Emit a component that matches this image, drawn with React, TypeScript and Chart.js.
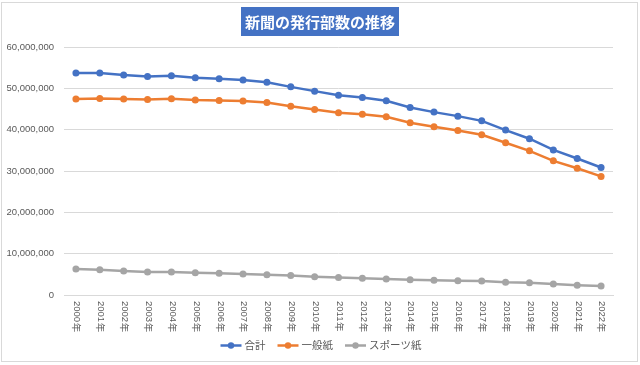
import { useEffect, useRef } from 'react';
import { Chart, registerables } from 'chart.js';

Chart.register(...registerables);

const TITLE = '新聞の発行部数の推移';

const years = [
  '2000年', '2001年', '2002年', '2003年', '2004年', '2005年', '2006年', '2007年',
  '2008年', '2009年', '2010年', '2011年', '2012年', '2013年', '2014年', '2015年',
  '2016年', '2017年', '2018年', '2019年', '2020年', '2021年', '2022年',
];

const total = [
  53708831, 53680756, 53198444, 52874959, 53021564, 52568032, 52310478, 52028671,
  51491409, 50352831, 49321840, 48345304, 47777913, 46999468, 45362672, 44246688,
  43276147, 42128189, 39901576, 37811248, 35091944, 33027135, 30846631,
];

const general = [
  47401669, 47559052, 47390027, 47282645, 47469987, 47189832, 47056527, 46963136,
  46563681, 45659885, 44906720, 44091335, 43723161, 43126352, 41687125, 40691684,
  39821106, 38763641, 36823021, 34877203, 32454947, 30657160, 28694915,
];

const sports = [
  6307162, 6121704, 5808417, 5592314, 5551577, 5378200, 5253951, 5065535,
  4927728, 4692946, 4415120, 4253969, 4054752, 3873116, 3675547, 3555004,
  3455041, 3364548, 3078555, 2934045, 2636997, 2369975, 2151716,
];

const seriesNames = ['合計', '一般紙', 'スポーツ紙'];
const seriesColors = ['#4472C4', '#ED7D31', '#A5A5A5'];

const yMin = 0;
const yMax = 60000000;
const yStep = 10000000;

const FONT = '"Liberation Sans", Arial, sans-serif';
const JP = '"Noto Sans CJK JP", sans-serif';
const TEXT = '#595959';

const decor = {
  id: 'decor',
  beforeDraw(chart: any) {
    const ctx = chart.ctx;
    ctx.save();
    ctx.fillStyle = '#ffffff';
    ctx.fillRect(0, 0, chart.width, chart.height);
    ctx.strokeStyle = '#d9d9d9';
    ctx.lineWidth = 1;
    ctx.strokeRect(1.5, 2.5, 636, 359);
    ctx.restore();
  },
  afterDraw(chart: any) {
    const ctx = chart.ctx;
    const area = chart.chartArea;
    ctx.save();
    // title
    ctx.font = `bold 15px ${JP}`;
    const tw = ctx.measureText(TITLE).width;
    const cx = 320;
    ctx.fillStyle = '#4472C4';
    ctx.fillRect(cx - tw / 2 - 4, 7, tw + 8, 29);
    ctx.fillStyle = '#ffffff';
    ctx.textAlign = 'center';
    ctx.textBaseline = 'middle';
    ctx.fillText(TITLE, cx, 22);

    // x labels, rotated clockwise
    const xs = chart.scales.x;
    ctx.fillStyle = TEXT;
    years.forEach((label, i) => {
      const x = xs.getPixelForTick(i);
      ctx.save();
      ctx.translate(x + 1, area.bottom + 6);
      ctx.rotate(Math.PI / 2);
      ctx.textAlign = 'left';
      ctx.textBaseline = 'middle';
      const num = label.slice(0, 4);
      ctx.font = `9.5px ${FONT}`;
      ctx.fillText(num, 0, 0);
      const nw = ctx.measureText(num).width;
      ctx.font = `9.5px ${JP}`;
      ctx.fillText(label.slice(4), nw + 0.5, 0);
      ctx.restore();
    });

    // legend
    ctx.font = `10.5px ${JP}`;
    const lineW = 21;
    const gap = 3;
    const itemGap = 12;
    const widths = seriesNames.map((n) => lineW + gap + ctx.measureText(n).width);
    const totalW = widths.reduce((a, b) => a + b, 0) + itemGap * (seriesNames.length - 1);
    let x = 321 - totalW / 2;
    const y = 345.5;
    seriesNames.forEach((n, i) => {
      ctx.strokeStyle = seriesColors[i];
      ctx.lineWidth = 2.5;
      ctx.beginPath();
      ctx.moveTo(x, y);
      ctx.lineTo(x + lineW, y);
      ctx.stroke();
      ctx.fillStyle = seriesColors[i];
      ctx.beginPath();
      ctx.arc(x + lineW / 2, y, 3.2, 0, Math.PI * 2);
      ctx.fill();
      ctx.fillStyle = TEXT;
      ctx.textAlign = 'left';
      ctx.textBaseline = 'middle';
      ctx.fillText(n, x + lineW + gap, y);
      x += widths[i] + itemGap;
    });
    ctx.restore();
  },
};

export default function App() {
  const ref = useRef<HTMLCanvasElement | null>(null);

  useEffect(() => {
    document.body.style.margin = '0';
    const canvas = ref.current;
    if (!canvas) return;
    const mk = (data: number[], i: number) => ({
      label: seriesNames[i],
      data,
      borderColor: seriesColors[i],
      backgroundColor: seriesColors[i],
      borderWidth: 2.5,
      pointRadius: 3.5,
      pointBorderWidth: 0,
      pointBackgroundColor: seriesColors[i],
      tension: 0,
    });
    const chart = new Chart(canvas, {
      type: 'line',
      data: {
        labels: years,
        datasets: [mk(total, 0), mk(general, 1), mk(sports, 2)],
      },
      options: {
        animation: false,
        responsive: false,
        devicePixelRatio: 1,
        layout: { padding: { left: 0, right: 27, top: 47, bottom: 0 } },
        plugins: {
          legend: { display: false },
          title: { display: false },
          tooltip: { enabled: false },
        },
        scales: {
          x: {
            offset: true,
            grid: { display: false, drawTicks: false },
            border: { display: true, color: '#d9d9d9', width: 1 },
            ticks: { display: false },
            afterFit: (s: any) => {
              s.height = 70;
            },
          },
          y: {
            min: yMin,
            max: yMax,
            grid: { color: '#d9d9d9', drawTicks: false },
            border: { display: false },
            ticks: {
              stepSize: yStep,
              padding: 10,
              color: TEXT,
              font: { family: FONT, size: 9.5 },
              callback: (v: any) => Number(v).toLocaleString('en-US'),
            },
            afterFit: (s: any) => {
              s.width = 64;
            },
          },
        },
      },
      plugins: [decor],
    });
    return () => chart.destroy();
  }, []);

  return (
    <div style={{ width: 640, height: 365 }}>
      <canvas ref={ref} width={640} height={365} style={{ display: 'block' }} />
    </div>
  );
}
